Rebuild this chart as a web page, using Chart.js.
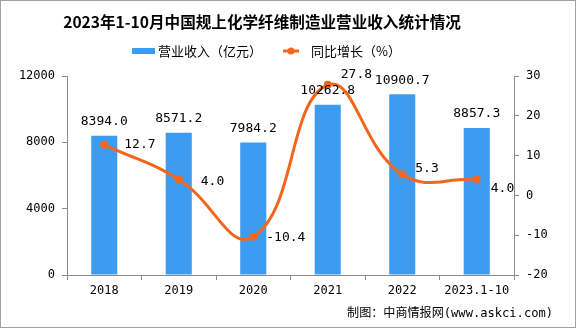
<!DOCTYPE html>
<html>
<head>
<meta charset="utf-8">
<script src="https://cdn.jsdelivr.net/npm/chart.js@4/dist/chart.umd.min.js"></script>
<style>
  html, body { margin: 0; padding: 0; background: #fff; }
  #wrap { width: 576px; height: 328px; }
</style>
</head>
<body>
<div id="wrap"><canvas id="chart" width="576" height="328"></canvas></div>
<script>
// 数据
const years = ["2018", "2019", "2020", "2021", "2022", "2023.1-10"];
const revenue = [8394.0, 8571.2, 7984.2, 10262.8, 10900.7, 8857.3]; // 亿元
const growth = [12.7, 4.0, -10.4, 27.8, 5.3, 4.0]; // %
const leftTicks = [0, 4000, 8000, 12000];
const rightTicks = [-20, -10, 0, 10, 20, 30];

const titleText = "2023年1-10月中国规上化学纤维制造业营业收入统计情况";
const sourceText = "制图：中商情报网(www.askci.com)";

const BLUE = "#3d9cf0";
const ORANGE = "#f4661f";
const AXIS = "#8c8c8c";
const numFont = '"DejaVu Sans Mono", "Noto Sans CJK SC", monospace';
const cjkFont = '"Noto Sans CJK SC", "DejaVu Sans", sans-serif';

// 按宽度取字号
function fitFont(ctx, text, weight, family, width) {
  ctx.font = weight + " 20px " + family;
  const size = 20 * width / ctx.measureText(text).width;
  ctx.font = weight + " " + size.toFixed(1) + "px " + family;
}

// 标题、图例、数据标签、来源
const decor = {
  id: "decor",
  afterDatasetsDraw(chart, args, opts) {
    const ctx = chart.ctx;
    ctx.save();

    // 柱状图数值
    ctx.fillStyle = "#000";
    ctx.font = "13px " + numFont;
    ctx.textAlign = "center";
    ctx.textBaseline = "middle";
    chart.getDatasetMeta(0).data.forEach((bar, i) => {
      ctx.fillText(revenue[i].toFixed(1), bar.x, bar.y - 14);
    });

    // 折线数值
    ctx.textAlign = "left";
    chart.getDatasetMeta(1).data.forEach((pt, i) => {
      const n = opts.lineNudge[i];
      ctx.fillText(growth[i].toFixed(1), pt.x + n[0], pt.y + n[1]);
    });
    ctx.restore();
  },
  afterDraw(chart) {
    const ctx = chart.ctx;
    ctx.save();

    // 标题
    ctx.fillStyle = "#000";
    fitFont(ctx, titleText, "bold", cjkFont, 397);
    ctx.textAlign = "center";
    ctx.textBaseline = "middle";
    ctx.fillText(titleText, 262, 22);

    // 图例
    const bars = chart.data.datasets[0].label;
    const line = chart.data.datasets[1].label;
    fitFont(ctx, bars, "normal", cjkFont, 104);
    ctx.textAlign = "left";
    let x = 132;
    ctx.fillStyle = BLUE;
    ctx.fillRect(x, 48, 23, 6);
    ctx.fillStyle = "#000";
    ctx.fillText(bars, x + 26, 51);
    x = 283;
    ctx.strokeStyle = ORANGE;
    ctx.lineWidth = 3;
    ctx.beginPath();
    ctx.moveTo(x, 51);
    ctx.lineTo(x + 16, 51);
    ctx.stroke();
    ctx.fillStyle = ORANGE;
    ctx.beginPath();
    ctx.arc(x + 8, 51, 3.5, 0, Math.PI * 2);
    ctx.fill();
    ctx.fillStyle = "#000";
    ctx.fillText(line, x + 28, 51);

    // 来源
    fitFont(ctx, sourceText, "normal", numFont, 206);
    ctx.textAlign = "right";
    ctx.fillText(sourceText, 553, 314);

    // 外框
    ctx.strokeStyle = "#a0a0a0";
    ctx.lineWidth = 1;
    ctx.strokeRect(0.5, 0.5, 575, 327);
    ctx.restore();
  }
};

new Chart(document.getElementById("chart"), {
  data: {
    labels: years,
    datasets: [
      {
        type: "bar",
        label: "营业收入（亿元）",
        data: revenue,
        yAxisID: "y",
        backgroundColor: BLUE,
        barPercentage: 0.35,
        categoryPercentage: 1,
        order: 1
      },
      {
        type: "line",
        label: "同比增长（%）",
        data: growth,
        yAxisID: "y1",
        borderColor: ORANGE,
        backgroundColor: ORANGE,
        borderWidth: 3,
        pointRadius: 4,
        pointBackgroundColor: ORANGE,
        pointBorderWidth: 0,
        tension: 0.45,
        order: 0
      }
    ]
  },
  options: {
    responsive: false,
    animation: false,
    layout: { padding: { top: 76, left: 0, right: 0, bottom: 0 } },
    plugins: {
      legend: { display: false },
      title: { display: false },
      tooltip: { enabled: false },
      decor: {
        lineNudge: [[20, 0], [22, 2], [13, 1], [13, -10], [13, -6], [14, 9]]
      }
    },
    scales: {
      x: {
        offset: true,
        grid: { display: true, drawOnChartArea: false, tickLength: 5, color: AXIS, offset: true },
        border: { color: AXIS },
        ticks: { color: "#000", font: { family: numFont, size: 12 }, padding: 4, maxRotation: 0 },
        afterFit(s) { s.height = 53; }
      },
      y: {
        position: "left",
        min: 0,
        max: 12000,
        afterBuildTicks(s) { s.ticks = leftTicks.map(v => ({ value: v })); },
        grid: { drawOnChartArea: false, tickLength: 5, color: AXIS },
        border: { color: AXIS },
        ticks: { color: "#000", font: { family: numFont, size: 12 }, padding: 7, callback: v => String(v) },
        afterFit(s) { s.width = 67; }
      },
      y1: {
        position: "right",
        min: -20,
        max: 30,
        afterBuildTicks(s) { s.ticks = rightTicks.map(v => ({ value: v })); },
        grid: { drawOnChartArea: false, tickLength: 5, color: AXIS },
        border: { color: AXIS },
        ticks: { color: "#000", font: { family: numFont, size: 12 }, padding: 7, callback: v => String(v) },
        afterFit(s) { s.width = 62; }
      }
    }
  },
  plugins: [decor]
});
</script>
</body>
</html>
